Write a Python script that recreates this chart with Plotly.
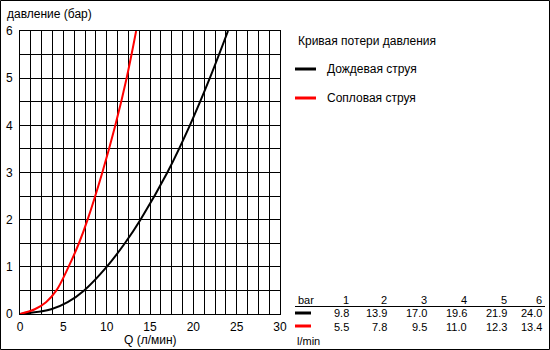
import plotly.graph_objects as go

# Data (pressure in bar vs flow in l/min)
pressure = [0, 0.1, 0.25, 0.5, 1, 1.5, 2, 3, 4, 5, 6]
q_rain = [0, 3.6, 5.5, 7.4, 10.0, 12.1, 13.9, 17.0, 19.6, 21.9, 24.0]
q_nozzle = [0, 1.7, 3.0, 4.2, 5.6, 6.8, 7.8, 9.5, 11.0, 12.3, 13.4]

table_bar = [1, 2, 3, 4, 5, 6]
table_rain = ["9.8", "13.9", "17.0", "19.6", "21.9", "24.0"]
table_nozzle = ["5.5", "7.8", "9.5", "11.0", "12.3", "13.4"]

x_ticks = [0, 5, 10, 15, 20, 25, 30]
y_ticks = [0, 1, 2, 3, 4, 5, 6]

FONT = "Liberation Sans, Arial, sans-serif"

# plot area in pixels
L, R, T, B = 20, 280, 31, 314
W, H = 550, 350


def px(x):
    return (x - L) / (R - L)


def py(y):
    return (B - y) / (B - T)


fig = go.Figure()
fig.add_trace(go.Scatter(x=q_rain, y=pressure, mode="lines",
                         line=dict(color="black", width=2, shape="spline", smoothing=1.0),
                         showlegend=False, hoverinfo="skip"))
fig.add_trace(go.Scatter(x=q_nozzle, y=pressure, mode="lines",
                         line=dict(color="#ff0000", width=2, shape="spline", smoothing=1.0),
                         showlegend=False, hoverinfo="skip"))

shapes = []
annotations = []

# outer border
shapes.append(dict(type="rect", xref="paper", yref="paper", x0=px(0.5), x1=px(549.5), y0=py(349.5), y1=py(0.5),
                   line=dict(color="black", width=1), layer="below"))

# axis titles
annotations.append(dict(text="давление (бар)", xref="paper", yref="paper", x=px(5), y=py(14), xanchor="left",
                        yanchor="middle", showarrow=False, font=dict(family=FONT, size=12, color="black")))
annotations.append(dict(text="Q (л/мин)", xref="paper", yref="paper", x=px(150), y=py(340), xanchor="center",
                        yanchor="middle", showarrow=False, font=dict(family=FONT, size=12, color="black")))

# legend
annotations.append(dict(text="Кривая потери давления", xref="paper", yref="paper", x=px(296), y=py(41),
                        xanchor="left", yanchor="middle", showarrow=False,
                        font=dict(family=FONT, size=12, color="black")))
legend_items = [("Дождевая струя", "black", 69), ("Сопловая струя", "#ff0000", 98)]
for name, col, yy in legend_items:
    shapes.append(dict(type="line", xref="paper", yref="paper", x0=px(295), x1=px(316), y0=py(yy), y1=py(yy),
                       line=dict(color=col, width=3)))
    annotations.append(dict(text=name, xref="paper", yref="paper", x=px(325), y=py(yy), xanchor="left",
                            yanchor="middle", showarrow=False, font=dict(family=FONT, size=12, color="black")))

# table
tfont = dict(family=FONT, size=11, color="black")
annotations.append(dict(text="bar", xref="paper", yref="paper", x=px(296), y=py(300), xanchor="left",
                        yanchor="middle", showarrow=False, font=tfont))
annotations.append(dict(text="l/min", xref="paper", yref="paper", x=px(295), y=py(341), xanchor="left",
                        yanchor="middle", showarrow=False, font=tfont))
shapes.append(dict(type="line", xref="paper", yref="paper", x0=px(295), x1=px(545), y0=py(306.5), y1=py(306.5),
                   line=dict(color="black", width=1)))
for yy, col in [(313, "black"), (326, "#ff0000")]:
    shapes.append(dict(type="line", xref="paper", yref="paper", x0=px(295), x1=px(311), y0=py(yy), y1=py(yy),
                       line=dict(color=col, width=3)))
col_x = [351, 389, 429, 469, 509, 544]
for i, b in enumerate(table_bar):
    annotations.append(dict(text=str(b), xref="paper", yref="paper", x=px(col_x[i]), y=py(300), xanchor="right",
                            yanchor="middle", showarrow=False, font=tfont))
    annotations.append(dict(text=table_rain[i], xref="paper", yref="paper", x=px(col_x[i]), y=py(313),
                            xanchor="right", yanchor="middle", showarrow=False, font=tfont))
    annotations.append(dict(text=table_nozzle[i], xref="paper", yref="paper", x=px(col_x[i]), y=py(327),
                            xanchor="right", yanchor="middle", showarrow=False, font=tfont))

fig.update_layout(
    width=W, height=H,
    margin=dict(l=L, r=W - R, t=T, b=H - B, pad=0, autoexpand=False),
    paper_bgcolor="white", plot_bgcolor="white",
    font=dict(family=FONT, size=12, color="black"),
    shapes=shapes, annotations=annotations,
    showlegend=False,
    xaxis=dict(range=[0, 30], tickvals=x_ticks, ticktext=[str(v) for v in x_ticks],
               showgrid=True, gridcolor="black", gridwidth=1,
               minor=dict(dtick=1.25, showgrid=True, gridcolor="black", gridwidth=1, tick0=0),
               showline=True, linecolor="black", linewidth=1, mirror=True,
               zeroline=False, ticks="", ticklen=0, automargin=False, ticklabelstandoff=2,
               tickfont=dict(family=FONT, size=12)),
    yaxis=dict(range=[0, 6], tickvals=y_ticks, ticktext=[str(v) for v in y_ticks],
               showgrid=True, gridcolor="black", gridwidth=1,
               minor=dict(dtick=0.5, showgrid=True, gridcolor="black", gridwidth=1, tick0=0),
               showline=True, linecolor="black", linewidth=1, mirror=True,
               zeroline=False, ticks="", ticklen=0, automargin=False, ticklabelstandoff=4,
               tickfont=dict(family=FONT, size=12)),
)

fig.write_html("out.html")
